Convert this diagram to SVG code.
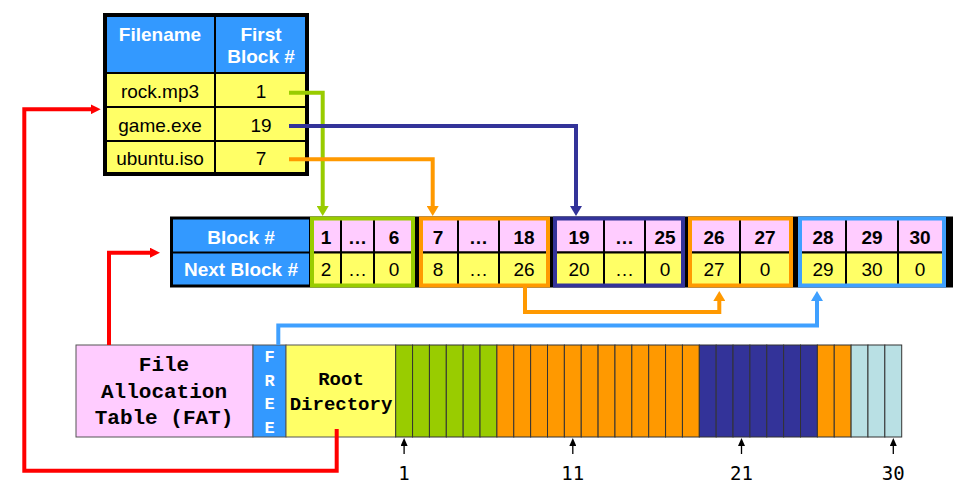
<svg xmlns="http://www.w3.org/2000/svg" width="966" height="494" viewBox="0 0 966 494">
<style>
.hdr{font-family:"Liberation Sans",Arial,sans-serif;font-weight:bold;font-size:19px;fill:#fff;text-anchor:middle}
.cell{font-family:"Liberation Sans",Arial,sans-serif;font-size:19px;fill:#000;text-anchor:middle}
.bcell{font-family:"Liberation Sans",Arial,sans-serif;font-weight:bold;font-size:19px;fill:#000;text-anchor:middle}
.mono{font-family:"Liberation Mono","Courier New",monospace;font-weight:bold;fill:#000;text-anchor:middle}
.wmono{font-family:"Liberation Mono","Courier New",monospace;font-weight:bold;font-size:17px;fill:#fff;text-anchor:middle}
.num{font-family:"DejaVu Sans Mono",monospace;font-size:19px;fill:#000;text-anchor:middle}
.grid{stroke:#000;stroke-width:2}
.blk{stroke:#333;stroke-width:1}
.conn{fill:none;stroke-width:4;stroke-linejoin:miter}
</style>
<defs>
<marker id="a-green" viewBox="0 0 10 12" refX="4" refY="6" markerWidth="10" markerHeight="12" orient="auto" markerUnits="userSpaceOnUse"><path d="M0,0 L10,6 L0,12 z" fill="#99CC00"/></marker>
<marker id="a-orange" viewBox="0 0 10 12" refX="4" refY="6" markerWidth="10" markerHeight="12" orient="auto" markerUnits="userSpaceOnUse"><path d="M0,0 L10,6 L0,12 z" fill="#FF9900"/></marker>
<marker id="a-navy" viewBox="0 0 10 12" refX="4" refY="6" markerWidth="10" markerHeight="12" orient="auto" markerUnits="userSpaceOnUse"><path d="M0,0 L10,6 L0,12 z" fill="#333399"/></marker>
<marker id="a-blue" viewBox="0 0 10 12" refX="4" refY="6" markerWidth="10" markerHeight="12" orient="auto" markerUnits="userSpaceOnUse"><path d="M0,0 L10,6 L0,12 z" fill="#3FA0FF"/></marker>
<marker id="a-red" viewBox="0 0 10 10" refX="4" refY="5" markerWidth="10" markerHeight="10" orient="auto" markerUnits="userSpaceOnUse"><path d="M0,0 L10,5 L0,10 z" fill="#FF0000"/></marker>
<marker id="a-black" viewBox="0 0 8 7" refX="2" refY="3.5" markerWidth="8" markerHeight="7" orient="auto" markerUnits="userSpaceOnUse"><path d="M0,0 L8,3.5 L0,7 z" fill="#000"/></marker>
</defs>

<!-- Directory table -->
<g id="directory">
<rect x="105" y="15" width="110" height="58" fill="#3399FF" class="grid"/>
<rect x="215" y="15" width="92" height="58" fill="#3399FF" class="grid"/>
<rect x="105" y="73" width="110" height="34" fill="#FFFF66" class="grid"/>
<rect x="215" y="73" width="92" height="34" fill="#FFFF66" class="grid"/>
<rect x="105" y="107" width="110" height="34" fill="#FFFF66" class="grid"/>
<rect x="215" y="107" width="92" height="34" fill="#FFFF66" class="grid"/>
<rect x="105" y="141" width="110" height="33" fill="#FFFF66" class="grid"/>
<rect x="215" y="141" width="92" height="33" fill="#FFFF66" class="grid"/>
<rect x="105" y="15" width="202" height="159" fill="none" stroke="#000" stroke-width="4"/>
<text class="hdr" x="160" y="40.5">Filename</text>
<text class="hdr" x="261" y="40.5">First</text>
<text class="hdr" x="261" y="63">Block #</text>
<text class="cell" x="160" y="98">rock.mp3</text>
<text class="cell" x="261" y="98">1</text>
<text class="cell" x="160" y="132">game.exe</text>
<text class="cell" x="261" y="132">19</text>
<text class="cell" x="160" y="164.5">ubuntu.iso</text>
<text class="cell" x="261" y="164.5">7</text>
</g>

<!-- FAT table -->
<g id="fat-table">
<rect x="170" y="216.5" width="783" height="71" fill="#000"/>
<rect x="173" y="219.5" width="136" height="32" fill="#3399FF"/>
<rect x="173" y="253.5" width="136" height="31" fill="#3399FF"/>
<text class="hdr" x="241" y="243.5">Block #</text>
<text class="hdr" x="241" y="276">Next Block #</text>

<g class="grid">
<rect x="312" y="218.5" width="101" height="34" fill="#FFCCFF"/>
<rect x="312" y="252.5" width="101" height="33" fill="#FFFF66"/>
<rect x="421" y="218.5" width="127" height="34" fill="#FFCCFF"/>
<rect x="421" y="252.5" width="127" height="33" fill="#FFFF66"/>
<rect x="555" y="218.5" width="128" height="34" fill="#FFCCFF"/>
<rect x="555" y="252.5" width="128" height="33" fill="#FFFF66"/>
<rect x="690" y="218.5" width="101" height="34" fill="#FFCCFF"/>
<rect x="690" y="252.5" width="101" height="33" fill="#FFFF66"/>
<rect x="800" y="218.5" width="144" height="34" fill="#FFCCFF"/>
<rect x="800" y="252.5" width="144" height="33" fill="#FFFF66"/>
<path d="M341,218.5V285.5M374,218.5V285.5M458,218.5V285.5M499,218.5V285.5M604,218.5V285.5M645,218.5V285.5M740,218.5V285.5M846,218.5V285.5M898,218.5V285.5" fill="none"/>
</g>
<rect x="312" y="218.5" width="101" height="67" fill="none" stroke="#99CC00" stroke-width="4"/>
<rect x="421" y="218.5" width="127" height="67" fill="none" stroke="#FF9900" stroke-width="4"/>
<rect x="555" y="218.5" width="128" height="67" fill="none" stroke="#333399" stroke-width="4"/>
<rect x="690" y="218.5" width="101" height="67" fill="none" stroke="#FF9900" stroke-width="4"/>
<rect x="800" y="218.5" width="144" height="67" fill="none" stroke="#3FA0FF" stroke-width="4"/>

<text class="bcell" x="326" y="243.5">1</text>
<text class="bcell" x="357.5" y="243.5">…</text>
<text class="bcell" x="394" y="243.5">6</text>
<text class="bcell" x="438" y="243.5">7</text>
<text class="bcell" x="478.5" y="243.5">…</text>
<text class="bcell" x="524" y="243.5">18</text>
<text class="bcell" x="579" y="243.5">19</text>
<text class="bcell" x="624.5" y="243.5">…</text>
<text class="bcell" x="665" y="243.5">25</text>
<text class="bcell" x="714" y="243.5">26</text>
<text class="bcell" x="765" y="243.5">27</text>
<text class="bcell" x="823" y="243.5">28</text>
<text class="bcell" x="872" y="243.5">29</text>
<text class="bcell" x="920" y="243.5">30</text>

<text class="cell" x="326" y="276">2</text>
<text class="cell" x="357.5" y="276">…</text>
<text class="cell" x="394" y="276">0</text>
<text class="cell" x="438" y="276">8</text>
<text class="cell" x="478.5" y="276">…</text>
<text class="cell" x="524" y="276">26</text>
<text class="cell" x="579" y="276">20</text>
<text class="cell" x="624.5" y="276">…</text>
<text class="cell" x="665" y="276">0</text>
<text class="cell" x="714" y="276">27</text>
<text class="cell" x="765" y="276">0</text>
<text class="cell" x="823" y="276">29</text>
<text class="cell" x="872" y="276">30</text>
<text class="cell" x="920" y="276">0</text>
</g>

<!-- Disk layout -->
<g id="disk">
<rect x="76" y="345" width="177" height="92" fill="#FFCCFF" stroke="#555" stroke-width="1"/>
<rect x="253" y="345" width="33" height="92" fill="#3399FF" stroke="#555" stroke-width="1"/>
<rect x="286" y="345" width="109.7" height="92" fill="#FFFF66" stroke="#555" stroke-width="1"/>
<text class="mono" font-size="21" x="164" y="371">File</text>
<text class="mono" font-size="21" x="164" y="398">Allocation</text>
<text class="mono" font-size="21" x="164" y="424">Table (FAT)</text>
<text class="wmono" x="269.5" y="362">F</text>
<text class="wmono" x="269.5" y="386">R</text>
<text class="wmono" x="269.5" y="409">E</text>
<text class="wmono" x="269.5" y="433">E</text>
<text class="mono" font-size="19" x="341" y="385">Root</text>
<text class="mono" font-size="19" x="341" y="410">Directory</text>

<g class="blk">
<rect x="395.7" y="345" width="16.87" height="92" fill="#99CC00"/>
<rect x="412.57" y="345" width="16.87" height="92" fill="#99CC00"/>
<rect x="429.43" y="345" width="16.87" height="92" fill="#99CC00"/>
<rect x="446.3" y="345" width="16.87" height="92" fill="#99CC00"/>
<rect x="463.17" y="345" width="16.87" height="92" fill="#99CC00"/>
<rect x="480.03" y="345" width="16.87" height="92" fill="#99CC00"/>
<rect x="496.9" y="345" width="16.87" height="92" fill="#FF9900"/>
<rect x="513.77" y="345" width="16.87" height="92" fill="#FF9900"/>
<rect x="530.64" y="345" width="16.87" height="92" fill="#FF9900"/>
<rect x="547.5" y="345" width="16.87" height="92" fill="#FF9900"/>
<rect x="564.37" y="345" width="16.87" height="92" fill="#FF9900"/>
<rect x="581.24" y="345" width="16.87" height="92" fill="#FF9900"/>
<rect x="598.1" y="345" width="16.87" height="92" fill="#FF9900"/>
<rect x="614.97" y="345" width="16.87" height="92" fill="#FF9900"/>
<rect x="631.84" y="345" width="16.87" height="92" fill="#FF9900"/>
<rect x="648.7" y="345" width="16.87" height="92" fill="#FF9900"/>
<rect x="665.57" y="345" width="16.87" height="92" fill="#FF9900"/>
<rect x="682.44" y="345" width="16.87" height="92" fill="#FF9900"/>
<rect x="699.31" y="345" width="16.87" height="92" fill="#333399"/>
<rect x="716.17" y="345" width="16.87" height="92" fill="#333399"/>
<rect x="733.04" y="345" width="16.87" height="92" fill="#333399"/>
<rect x="749.91" y="345" width="16.87" height="92" fill="#333399"/>
<rect x="766.77" y="345" width="16.87" height="92" fill="#333399"/>
<rect x="783.64" y="345" width="16.87" height="92" fill="#333399"/>
<rect x="800.51" y="345" width="16.87" height="92" fill="#333399"/>
<rect x="817.37" y="345" width="16.87" height="92" fill="#FF9900"/>
<rect x="834.24" y="345" width="16.87" height="92" fill="#FF9900"/>
<rect x="851.11" y="345" width="16.87" height="92" fill="#B9E0E4"/>
<rect x="867.97" y="345" width="16.87" height="92" fill="#B9E0E4"/>
<rect x="884.84" y="345" width="16.87" height="92" fill="#B9E0E4"/>
</g>

<g id="block-markers" fill="none" stroke="#000" stroke-width="1.3">
<path d="M404.1,454V444" marker-end="url(#a-black)"/>
<path d="M572.8,454V444" marker-end="url(#a-black)"/>
<path d="M741.5,454V444" marker-end="url(#a-black)"/>
<path d="M893.3,454V444" marker-end="url(#a-black)"/>
</g>
<text class="num" x="404.1" y="480">1</text>
<text class="num" x="572.8" y="480">11</text>
<text class="num" x="741.5" y="480">21</text>
<text class="num" x="893.3" y="480">30</text>
</g>

<!-- Connectors -->
<g id="connectors">
<path class="conn" stroke="#99CC00" d="M289,92.7H322.7V210" marker-end="url(#a-green)"/>
<path class="conn" stroke="#333399" d="M289,126H576V210" marker-end="url(#a-navy)"/>
<path class="conn" stroke="#FF9900" d="M289,159.3H432.7V210" marker-end="url(#a-orange)"/>
<path class="conn" stroke="#FF9900" d="M525,287V312H719.3V297" marker-end="url(#a-orange)"/>
<path class="conn" stroke="#3FA0FF" stroke-width="3" d="M278.3,345V325.5H817V297" marker-end="url(#a-blue)"/>
<path class="conn" stroke="#FF0000" d="M109,345V252.7H154" marker-end="url(#a-red)"/>
<path class="conn" stroke="#FF0000" d="M336.7,429V470.7H24.3V109.3H94.7" marker-end="url(#a-red)"/>
</g>
</svg>
